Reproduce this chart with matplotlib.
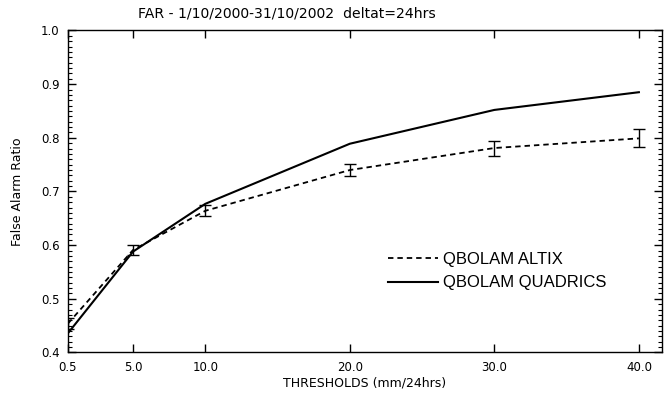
# libraries
import numpy as np
import matplotlib.pyplot as plt
from matplotlib.ticker import MultipleLocator
from matplotlib.lines import Line2D

# Dataset
thresholds = [0.5, 5.0, 10.0, 20.0, 30.0, 40.0]
tick_labels = ['0.5', '5.0', '10.0', '20.0', '30.0', '40.0']
far_altix = [0.454, 0.591, 0.664, 0.740, 0.781, 0.799]
err_altix = [0.010, 0.010, 0.010, 0.011, 0.014, 0.017]
far_quadrics = [0.436, 0.588, 0.677, 0.789, 0.852, 0.885]
series_names = ['QBOLAM ALTIX', 'QBOLAM QUADRICS']

plt.rcParams.update({'font.size': 9, 'font.family': 'DejaVu Sans'})

fig = plt.figure(figsize=(6.64, 3.95), dpi=100)
ax = fig.add_axes([0.1024, 0.1076, 0.8946, 0.8152])

dash = (0, (3, 2.2))

# dashed series with error bars
ax.errorbar(thresholds, far_altix, yerr=err_altix, color='black', lw=1.3,
            linestyle=dash, elinewidth=1.0, capsize=4.5, capthick=1.0)
ax.plot(thresholds, far_quadrics, color='black', lw=1.5)

ax.set_xlim(0.5, 41.6)
ax.set_ylim(0.4, 1.0)
ax.set_xticks(thresholds)
ax.set_xticklabels(tick_labels)
ax.yaxis.set_major_locator(MultipleLocator(0.1))
ax.yaxis.set_minor_locator(MultipleLocator(0.01))
ax.yaxis.set_major_formatter(plt.FuncFormatter(lambda v, p: '%.1f' % v))

ax.tick_params(axis='both', which='major', direction='in', top=True, right=True,
               length=6, width=1.0, labelsize=8.5, pad=6)
ax.tick_params(axis='y', which='minor', direction='in', right=True,
               length=3, width=0.8)
for spine in ax.spines.values():
    spine.set_linewidth(1.0)

ax.set_xlabel('THRESHOLDS (mm/24hrs)', fontsize=9, labelpad=2)
ax.set_ylabel('False Alarm Ratio', fontsize=9, labelpad=12)
fig.text(0.432, 0.967, 'FAR - 1/10/2000-31/10/2002  deltat=24hrs',
         ha='center', va='center', fontsize=10.1)

# legend, no frame, line handles only
handles = [Line2D([], [], color='black', lw=1.3, linestyle=dash),
           Line2D([], [], color='black', lw=1.5)]
fig.legend(handles, series_names, loc='upper left',
           bbox_to_anchor=(388 / 664, 1 - 252 / 395), frameon=False,
           prop={'family': 'Liberation Sans', 'size': 12},
           handlelength=3.0, handletextpad=0.3, labelspacing=0.5,
           borderpad=0, borderaxespad=0)

plt.savefig('out.png', dpi=100)
